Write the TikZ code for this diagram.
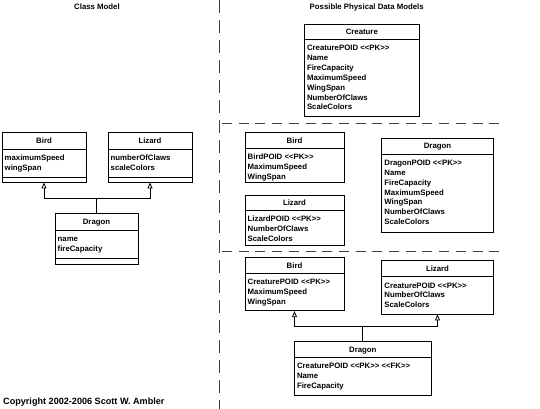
\documentclass[tikz,border=0pt]{standalone}
\usepackage{fontspec}
\newfontfamily\uf{Liberation Sans}
\usetikzlibrary{arrows.meta,fit}
\newcommand\pkt{<\kern0pt<PK>\kern0pt>}
\newcommand\fkt{<\kern0pt<FK>\kern0pt>}
\tikzset{
  boxline/.style={draw=black, line width=0.8pt},
  clsbox/.style={boxline, inner sep=0pt, fill=white},
  txt/.style={inner sep=0pt, text height=5.6pt, text depth=0pt, font=\uf\bfseries\fontsize{7.8}{9}\selectfont},
  gen/.style={line width=0.8pt, -{Triangle[open,length=6pt,width=5pt]}},
  sep/.style={line width=0.8pt, draw=black!75},
}
\newcommand\umlcls[8]{%
  \node[clsbox, fit={(#2,#3) (#4,#5)}] (#1) {};
  \draw[boxline] (#2,#6) -- (#4,#6);
  \node[txt] (#1-t) at ({(#2+#4)/2},{(#3+#6)/2}) {#7};
  \foreach \a [count=\i from 0] in {#8}
    \node[txt, anchor=west] (#1-a\i) at (#2+2.5, #6+8.5+\i*9.9) {\a};
}
\begin{document}
\begin{tikzpicture}[x=1pt,y=-1pt]
\useasboundingbox (0,0) rectangle (540,409);
% separators
\draw[sep, dash pattern=on 13pt off 7pt] (219.5,0) -- (219.5,409);
\draw[sep, dash pattern=on 10pt off 6.7pt] (222,123.3) -- (500,123.3);
\draw[sep, dash pattern=on 10pt off 6.7pt] (222,251.3) -- (500,251.3);
% titles
\node[txt] (t1) at (97,7) {Class Model};
\node[txt] (t2) at (366.7,7) {Possible Physical Data Models};
\node[txt, anchor=west, text height=6.5pt, font=\uf\bfseries\fontsize{9.1}{10}\selectfont] (copy) at (3,401) {Copyright 2002-2006 Scott W. Ambler};
% class model
\umlcls{bL}{2}{132.7}{86}{182}{149}{Bird}{maximumSpeed,wingSpan}
\draw[boxline] (2,177) -- (86,177);
\umlcls{lL}{108}{132.7}{192}{182}{149}{Lizard}{numberOfClaws,scaleColors}
\draw[boxline] (108,177) -- (192,177);
\umlcls{dL}{55}{213}{138}{264}{230}{Dragon}{name,fireCapacity}
\draw[boxline] (55,258) -- (138,258);
\coordinate (jL) at (dL.north |- 0,198);
\draw[gen] (dL.north) -- (jL) -| (bL.south);
\draw[gen] (jL) -| (lL.south);
% single table
\umlcls{cR}{304.3}{24}{419.3}{116.7}{39.3}{Creature}{CreaturePOID \pkt,Name,FireCapacity,MaximumSpeed,WingSpan,NumberOfClaws,ScaleColors}
% concrete tables
\umlcls{bR1}{245}{132.3}{344}{182.3}{148.3}{Bird}{BirdPOID \pkt,MaximumSpeed,WingSpan}
\umlcls{lR1}{245}{195.3}{344}{245}{210}{Lizard}{LizardPOID \pkt,NumberOfClaws,ScaleColors}
\umlcls{dR1}{381.7}{138.3}{493.3}{232.3}{154}{Dragon}{DragonPOID \pkt,Name,FireCapacity,MaximumSpeed,WingSpan,NumberOfClaws,ScaleColors}
% table per class
\umlcls{bR2}{245}{257.3}{344}{310.7}{273.3}{Bird}{CreaturePOID \pkt,MaximumSpeed,WingSpan}
\umlcls{lR2}{381.7}{260.7}{493.3}{314}{276.7}{Lizard}{CreaturePOID \pkt,NumberOfClaws,ScaleColors}
\umlcls{dR2}{294.3}{341.7}{431.3}{395}{357.3}{Dragon}{CreaturePOID \pkt\ \fkt,Name,FireCapacity}
\coordinate (jR) at (dR2.north |- 0,326.7);
\draw[gen] (dR2.north) -- (jR) -| (bR2.south);
\draw[gen] (jR) -| (lR2.south);
\end{tikzpicture}
\end{document}
